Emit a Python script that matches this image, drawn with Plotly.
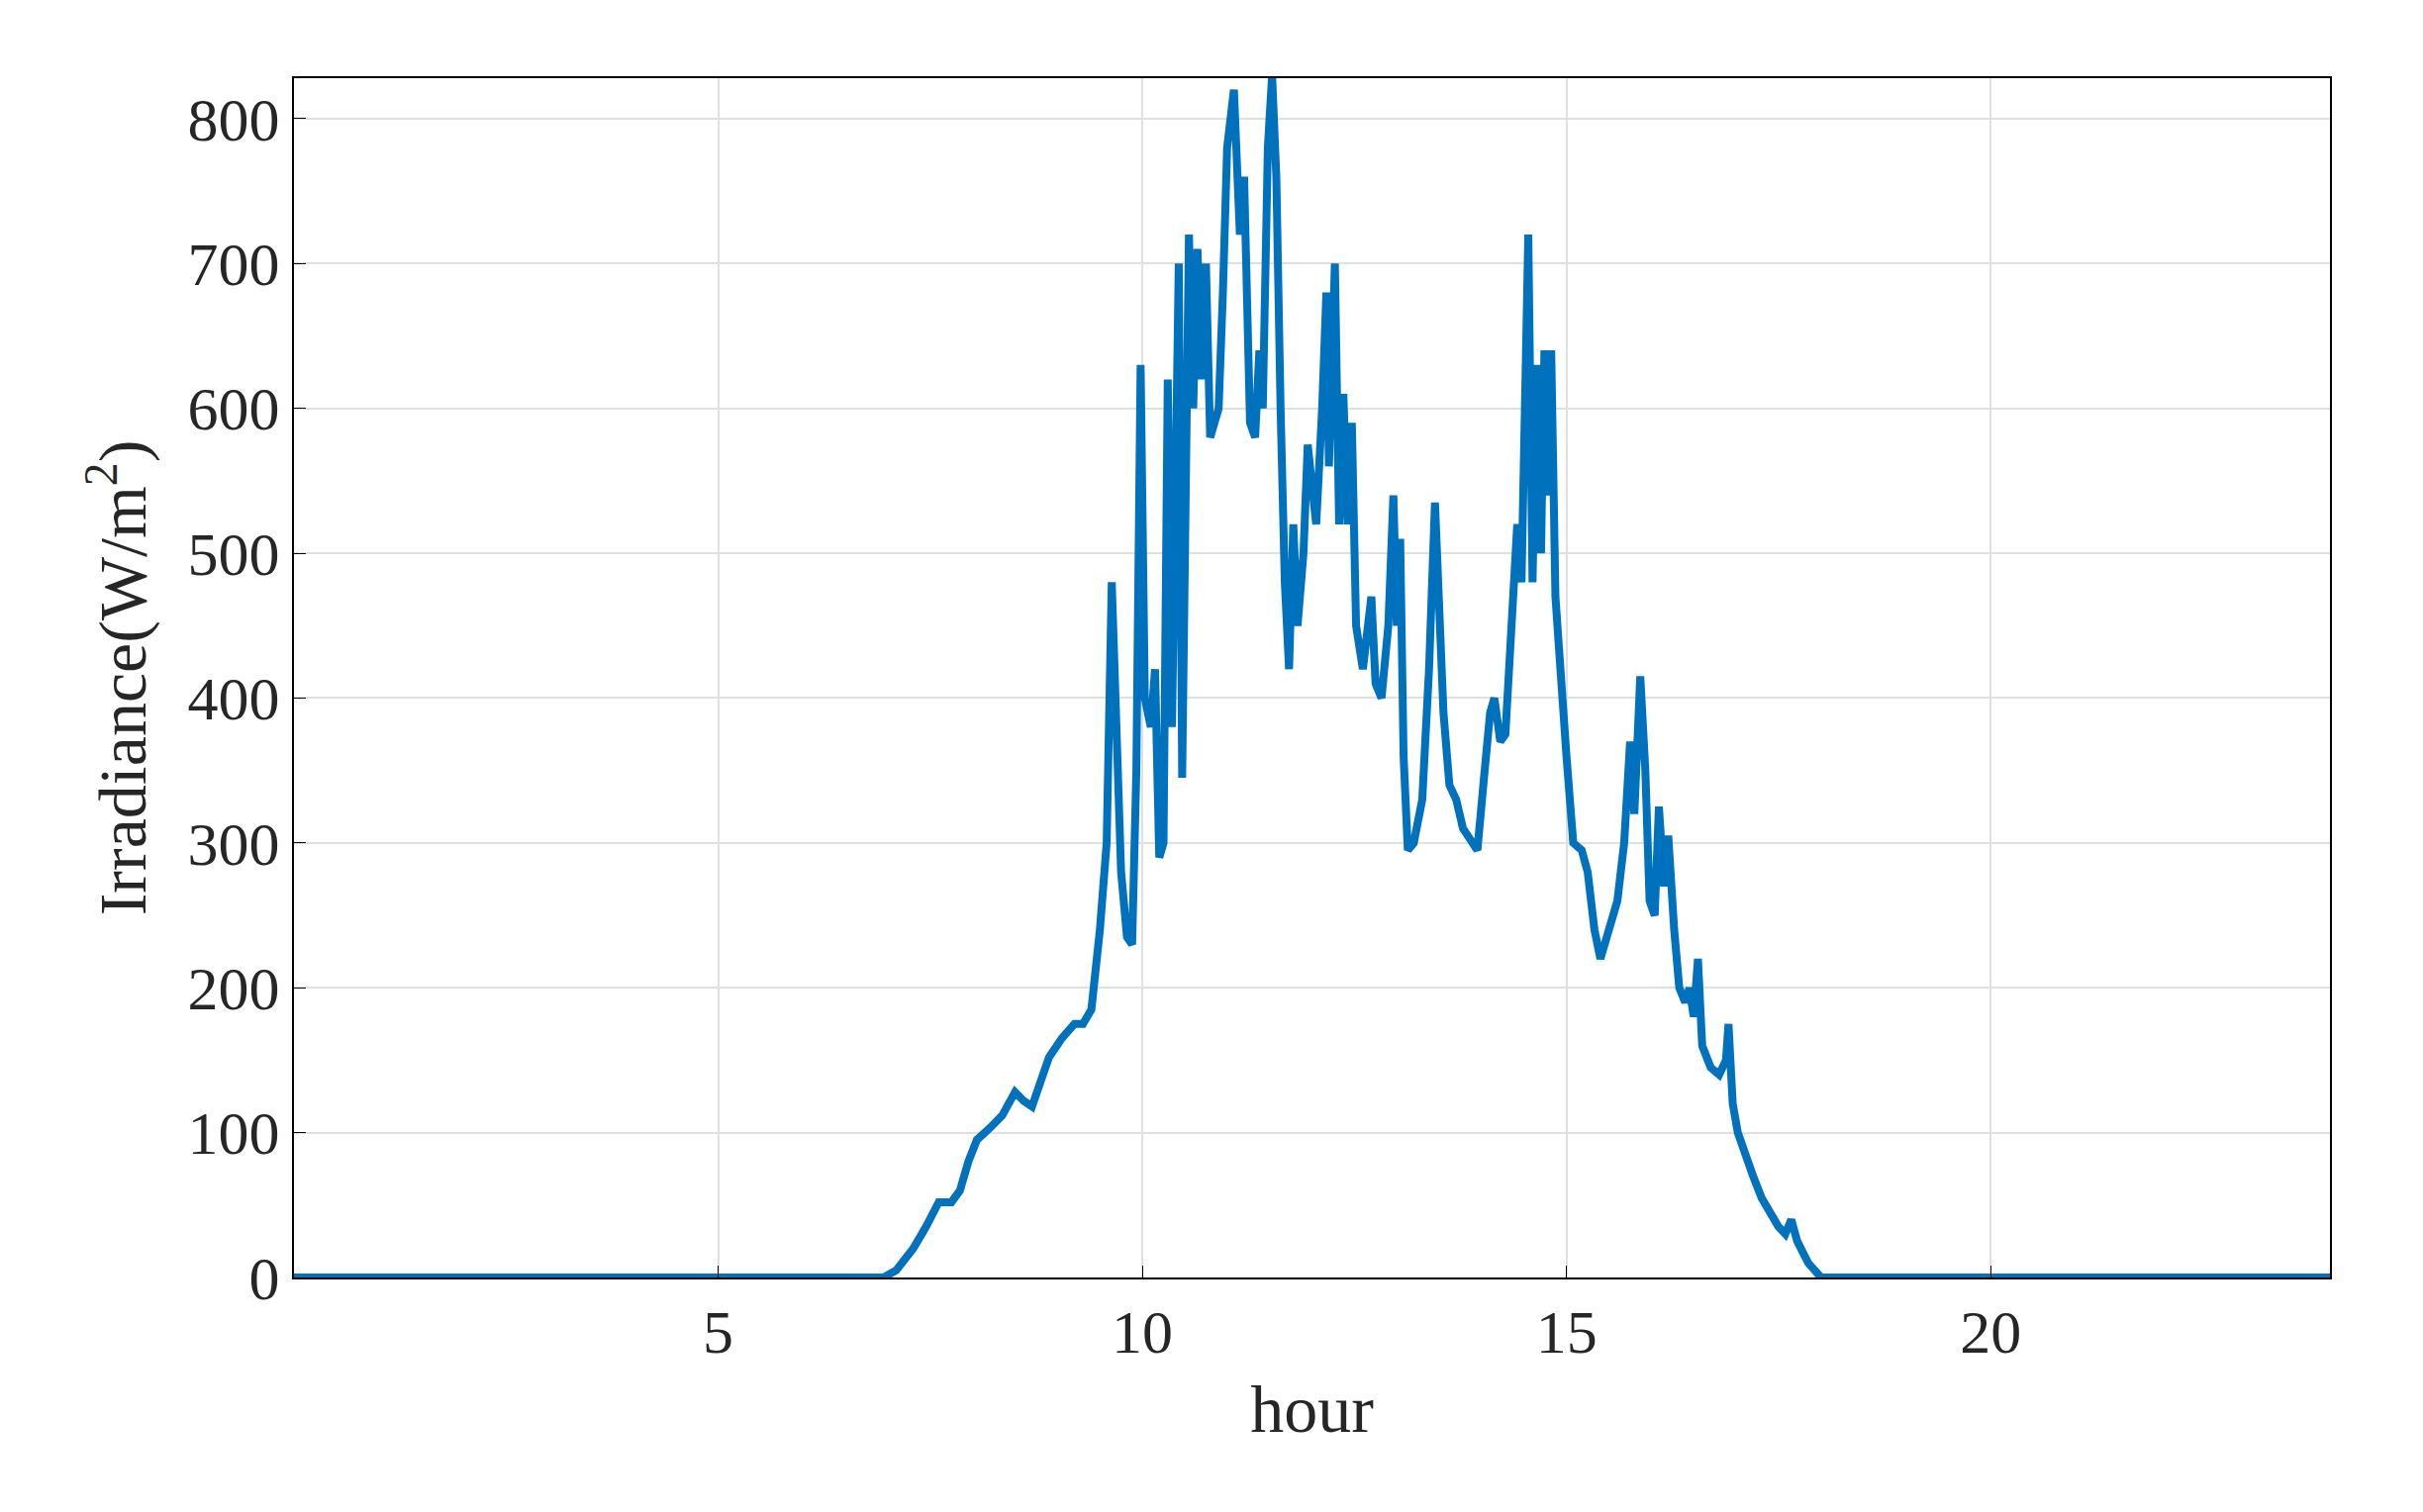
import plotly.graph_objects as go

hours = [0, 6.95, 7.1, 7.3, 7.45, 7.6, 7.75, 7.85, 7.95, 8.05, 8.2, 8.35, 8.5, 8.6, 8.7, 8.8, 8.9, 9.05, 9.2, 9.3, 9.4, 9.5, 9.58, 9.64, 9.7, 9.75, 9.82, 9.88, 9.93, 9.98, 10.03, 10.1, 10.15, 10.2, 10.25, 10.3, 10.35, 10.4, 10.43, 10.47, 10.55, 10.6, 10.65, 10.7, 10.75, 10.8, 10.9, 10.95, 11.0, 11.08, 11.15, 11.2, 11.27, 11.33, 11.38, 11.42, 11.48, 11.53, 11.58, 11.63, 11.68, 11.73, 11.78, 11.83, 11.9, 11.95, 12.0, 12.05, 12.12, 12.17, 12.2, 12.27, 12.32, 12.37, 12.42, 12.47, 12.52, 12.6, 12.7, 12.75, 12.82, 12.9, 12.96, 13.0, 13.04, 13.08, 13.13, 13.2, 13.3, 13.38, 13.45, 13.5, 13.55, 13.62, 13.7, 13.78, 13.9, 13.95, 14.02, 14.1, 14.15, 14.22, 14.28, 14.35, 14.42, 14.47, 14.52, 14.55, 14.6, 14.65, 14.7, 14.74, 14.78, 14.82, 14.87, 14.92, 14.96, 15.0, 15.08, 15.18, 15.25, 15.33, 15.4, 15.5, 15.6, 15.68, 15.75, 15.8, 15.87, 15.93, 15.98, 16.04, 16.09, 16.15, 16.2, 16.27, 16.33, 16.4, 16.45, 16.5, 16.55, 16.6, 16.7, 16.8, 16.88, 16.91, 16.96, 17.02, 17.1, 17.2, 17.3, 17.4, 17.5, 17.58, 17.65, 17.72, 17.85, 18.0, 24]
irradiance = [0, 0, 5, 20, 35, 52, 52, 60, 80, 95, 103, 112, 128, 122, 118, 135, 152, 165, 175, 175, 185, 240, 300, 480, 380, 280, 235, 230, 350, 630, 400, 380, 420, 290, 300, 620, 380, 560, 700, 345, 720, 600, 710, 620, 700, 580, 600, 680, 780, 820, 720, 760, 590, 580, 640, 600, 780, 830, 760, 600, 480, 420, 520, 450, 500, 575, 540, 520, 600, 680, 560, 700, 520, 610, 520, 590, 450, 420, 470, 410, 400, 450, 540, 450, 510, 360, 295, 300, 330, 420, 535, 460, 390, 340, 330, 310, 300, 295, 340, 390, 400, 370, 375, 450, 520, 480, 600, 720, 480, 630, 500, 640, 540, 640, 470, 420, 400, 360, 300, 295, 280, 240, 220, 240, 260, 300, 370, 320, 415, 350, 260, 250, 325, 270, 305, 240, 200, 190, 200, 180, 220, 160, 145, 140, 150, 175, 120, 100, 85, 70, 55, 45, 35, 30, 40, 25, 10, 0, 0]

x_ticks = [5, 10, 15, 20]
y_ticks = [0, 100, 200, 300, 400, 500, 600, 700, 800]

fig = go.Figure(go.Scatter(x=hours, y=irradiance, mode="lines",
                           line=dict(color="#0072BD", width=8)))
axis_common = dict(showline=True, linecolor="black", linewidth=2, mirror=True,
                   ticks="inside", ticklen=12, tickcolor="black",
                   showgrid=True, gridcolor="#e0e0e0", gridwidth=2, zeroline=False,
                   tickfont=dict(family="Liberation Serif", size=62, color="#262626"))
fig.update_xaxes(range=[0, 24], tickvals=x_ticks, title=dict(text="hour", font=dict(family="Liberation Serif", size=68, color="#262626"), standoff=20), **axis_common)
fig.update_yaxes(range=[0, 828], tickvals=y_ticks, title=dict(text="Irradiance(W/m<sup>2</sup>)", font=dict(family="Liberation Serif", size=68, color="#262626"), standoff=20), **axis_common)
fig.update_layout(width=2448, height=1528, plot_bgcolor="white", paper_bgcolor="white",
                  margin=dict(l=289, r=102, t=71, b=245), showlegend=False)
fig.write_html("out.html")
